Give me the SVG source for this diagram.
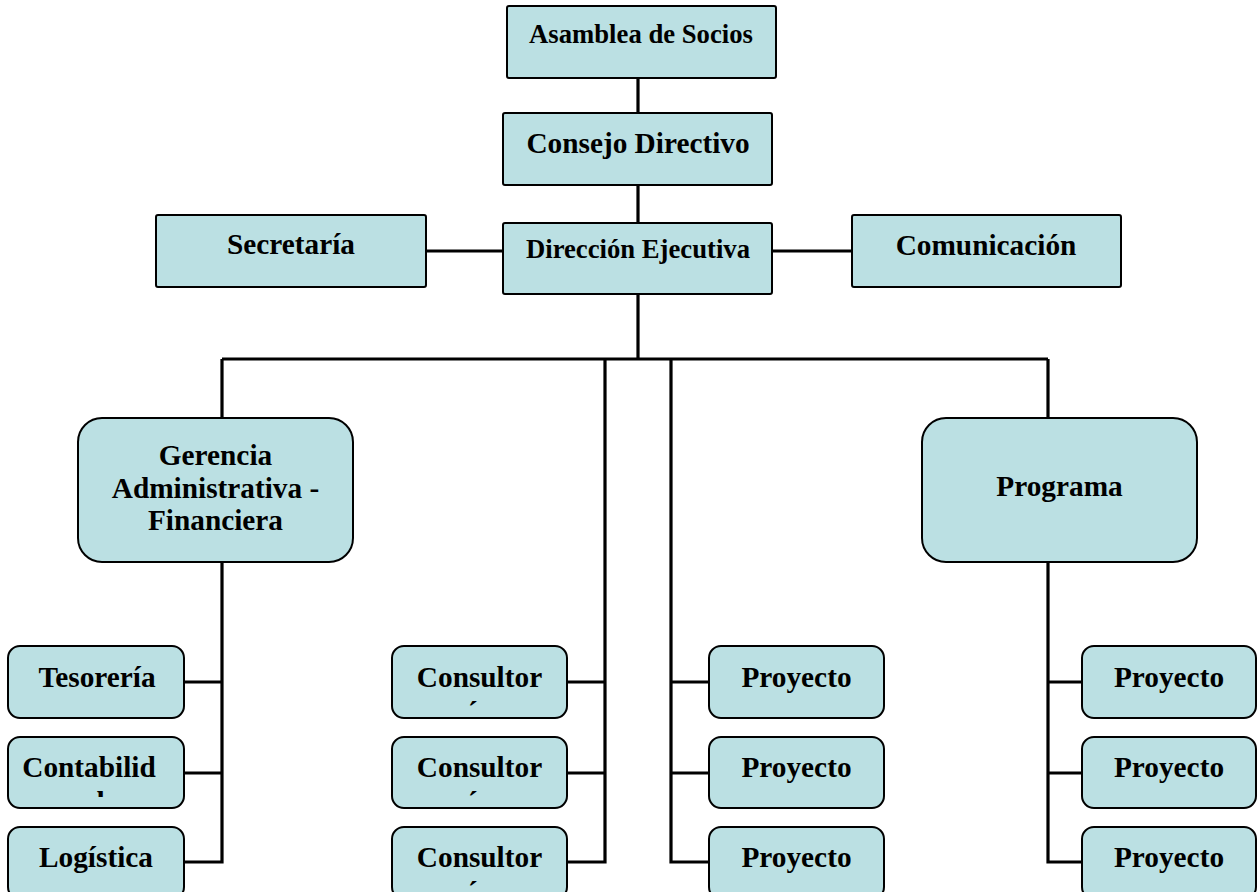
<svg xmlns="http://www.w3.org/2000/svg" width="1257" height="892" viewBox="0 0 1257 892">
<style>
.box{fill:#BBE0E3;stroke:#000;stroke-width:2}
.t{font-family:"Liberation Serif","Times New Roman",serif;font-weight:bold;font-size:29.3px;fill:#000;text-anchor:middle}
.s{font-size:26.7px}
.c{fill:none;stroke:#000;stroke-width:3.2}
</style>
<defs>
<clipPath id="k1"><rect x="392" y="646" width="175" height="61"/></clipPath>
<clipPath id="k2"><rect x="392" y="737" width="175" height="60"/></clipPath>
<clipPath id="k3"><rect x="392" y="827" width="175" height="60"/></clipPath>
<clipPath id="kc"><rect x="8" y="737" width="176" height="60"/></clipPath>
</defs>
<rect width="1257" height="892" fill="#fff"/>
<g id="connectors">
<path class="c" d="M638 78V113M638 185V223M426 251H503M772 251H852M638 294V359M222 359H1048M222 359V418M1048 359V418M605 359V862H567M671 359V862H709"/>
<path class="c" d="M222 562V862H184M222 682H184M222 773H184"/>
<path class="c" d="M605 682H567M605 773H567M671 682H709M671 773H709"/>
<path class="c" d="M1048 562V862H1082M1048 682H1082M1048 773H1082"/>
</g>
<g id="asamblea"><rect class="box" x="507" y="6" width="269" height="72" rx="2"/><text class="t s" x="641" y="43">Asamblea de Socios</text></g>
<g id="consejo"><rect class="box" x="503" y="113" width="269" height="72" rx="2"/><text class="t" x="638" y="153">Consejo Directivo</text></g>
<g id="direccion"><rect class="box" x="503" y="223" width="269" height="71" rx="2"/><text class="t s" x="638" y="258">Dirección Ejecutiva</text></g>
<g id="secretaria"><rect class="box" x="156" y="215" width="270" height="72" rx="2"/><text class="t" x="291" y="254">Secretaría</text></g>
<g id="comunicacion"><rect class="box" x="852" y="215" width="269" height="72" rx="2"/><text class="t" x="986" y="255">Comunicación</text></g>
<g id="gerencia"><rect class="box" x="78" y="418" width="275" height="144" rx="24"/><text class="t" x="215.5" y="465">Gerencia</text><text class="t" x="215.5" y="498">Administrativa -</text><text class="t" x="215.5" y="530">Financiera</text></g>
<g id="programa"><rect class="box" x="922" y="418" width="275" height="144" rx="24"/><text class="t" x="1059.5" y="496">Programa</text></g>
<g id="tesoreria"><rect class="box" x="8" y="646" width="176" height="72" rx="12"/><text class="t" x="97" y="687">Tesorería</text></g>
<g id="contabilidad"><rect class="box" x="8" y="737" width="176" height="71" rx="12"/><text class="t" x="89" y="777">Contabilid</text><text class="t" x="89" y="812" clip-path="url(#kc)">ad</text></g>
<g id="logistica"><rect class="box" x="8" y="827" width="176" height="72" rx="12"/><text class="t" x="96" y="867">Logística</text></g>
<g id="consultoria1"><rect class="box" x="392" y="646" width="175" height="72" rx="12"/><text class="t" x="479.5" y="687">Consultor</text><text class="t" x="479.5" y="722" clip-path="url(#k1)">ía</text></g>
<g id="consultoria2"><rect class="box" x="392" y="737" width="175" height="71" rx="12"/><text class="t" x="479.5" y="777">Consultor</text><text class="t" x="479.5" y="812" clip-path="url(#k2)">ía</text></g>
<g id="consultoria3"><rect class="box" x="392" y="827" width="175" height="72" rx="12"/><text class="t" x="479.5" y="867">Consultor</text><text class="t" x="479.5" y="902" clip-path="url(#k3)">ía</text></g>
<g id="proyecto1"><rect class="box" x="709" y="646" width="175" height="72" rx="12"/><text class="t" x="796.5" y="687">Proyecto</text></g>
<g id="proyecto2"><rect class="box" x="709" y="737" width="175" height="71" rx="12"/><text class="t" x="796.5" y="777">Proyecto</text></g>
<g id="proyecto3"><rect class="box" x="709" y="827" width="175" height="72" rx="12"/><text class="t" x="796.5" y="867">Proyecto</text></g>
<g id="proyecto4"><rect class="box" x="1082" y="646" width="174" height="72" rx="12"/><text class="t" x="1169" y="687">Proyecto</text></g>
<g id="proyecto5"><rect class="box" x="1082" y="737" width="174" height="71" rx="12"/><text class="t" x="1169" y="777">Proyecto</text></g>
<g id="proyecto6"><rect class="box" x="1082" y="827" width="174" height="72" rx="12"/><text class="t" x="1169" y="867">Proyecto</text></g>
</svg>
